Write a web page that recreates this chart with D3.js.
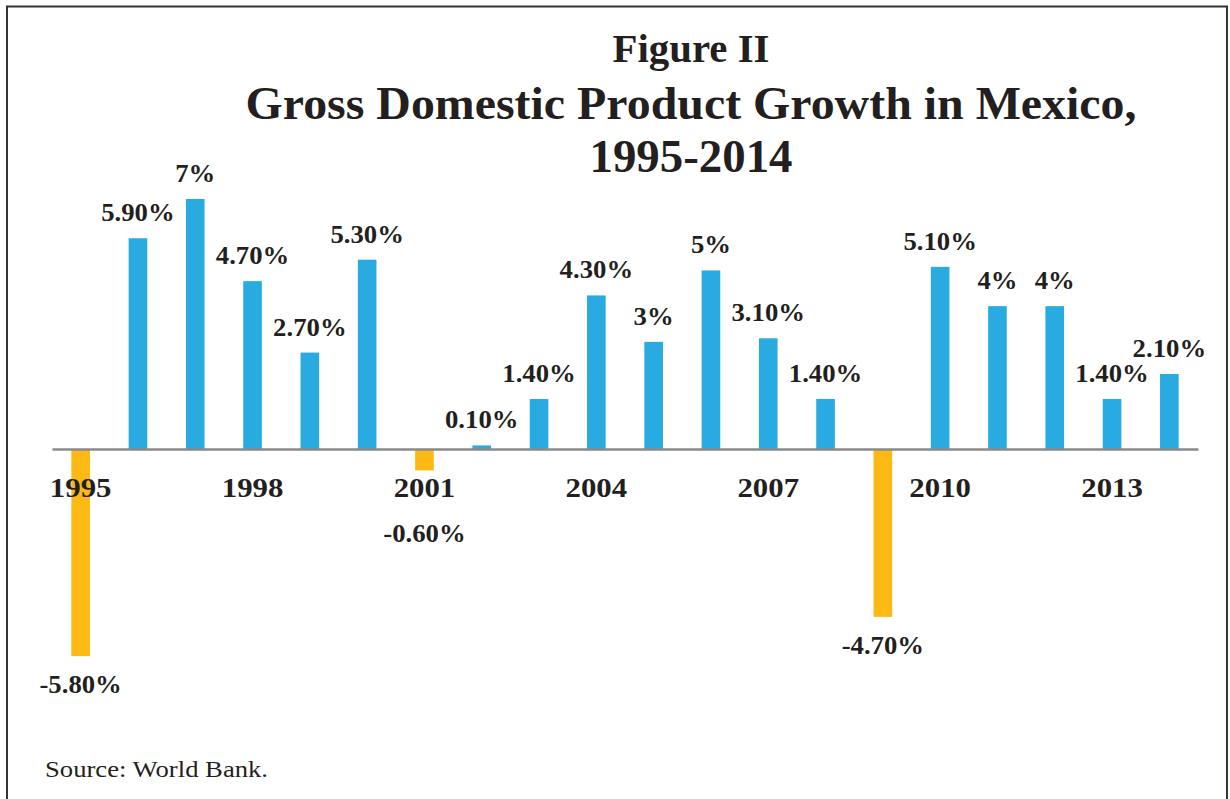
<!DOCTYPE html>
<meta charset="utf-8">
<style>
body { margin: 0; background: #fff; }
svg { display: block; }
text { font-family: "Liberation Serif", "Times New Roman", serif; fill: #231f20; }
.title { font-weight: bold; text-anchor: middle; }
.val { font-weight: bold; font-size: 25px; text-anchor: middle; }
.axis text { font-weight: bold; font-size: 28px; font-family: "Liberation Serif", serif; fill: #231f20; }
.axis path { stroke: #8a8a8a; stroke-width: 2.5; }
.source { font-size: 24px; }
</style>
<body>
<script src="https://d3js.org/d3.v7.min.js"></script>
<script>

// data (World Bank, GDP growth %)
var years = [1995, 1996, 1997, 1998, 1999, 2000, 2001, 2002, 2003, 2004,
             2005, 2006, 2007, 2008, 2009, 2010, 2011, 2012, 2013, 2014];
var growth = [-5.8, 5.9, 7, 4.7, 2.7, 5.3, -0.6, 0.1, 1.4, 4.3,
              3, 5, 3.1, 1.4, -4.7, 5.1, 4, 4, 1.4, 2.1];
var tickYears = [1995, 1998, 2001, 2004, 2007, 2010, 2013];
var titleLines = ["Figure II", "Gross Domestic Product Growth in Mexico,", "1995-2014"];
var source = "Source: World Bank.";

var W = 1230, H = 799;

var data = years.map(function(d, i) { return {year: d, value: growth[i]}; });

var svg = d3.select("body").append("svg")
    .attr("width", W)
    .attr("height", H);

// frame round the figure (bottom edge runs off the page)
svg.append("rect")
    .attr("x", 7).attr("y", 6.5)
    .attr("width", 1220).attr("height", 820)
    .attr("fill", "none")
    .attr("stroke", "#333")
    .attr("stroke-width", 2);

// scales
var x = d3.scaleBand()
    .domain(years)
    .range([52, 1198])
    .paddingInner(0.675)
    .paddingOuter(0.3375);

var y = d3.scaleLinear()
    .domain([0, 7])
    .range([449, 199]);

// title
var tl = [
  {t: titleLines[0], size: 40, y: 62, len: 157},
  {t: titleLines[1], size: 47, y: 119, len: 891},
  {t: titleLines[2], size: 47, y: 172, len: 203}
];
svg.selectAll(".title")
    .data(tl)
  .enter().append("text")
    .attr("class", "title")
    .attr("x", 691)
    .attr("y", function(d) { return d.y; })
    .style("font-size", function(d) { return d.size + "px"; })
    .attr("textLength", function(d) { return d.len; })
    .attr("lengthAdjust", "spacingAndGlyphs")
    .text(function(d) { return d.t; });

// bars
svg.selectAll(".bar")
    .data(data)
  .enter().append("rect")
    .attr("class", "bar")
    .attr("x", function(d) { return x(d.year); })
    .attr("width", x.bandwidth())
    .attr("y", function(d) { return y(Math.max(0, d.value)); })
    .attr("height", function(d) { return Math.abs(y(d.value) - y(0)); })
    .attr("fill", function(d) { return d.value < 0 ? "#fdb913" : "#29abe2"; });

// x axis (every third year)
var axis = svg.append("g")
    .attr("class", "axis")
    .attr("transform", "translate(0," + y(0) + ")")
    .call(d3.axisBottom(x)
        .tickValues(tickYears)
        .tickSize(0)
        .tickSizeOuter(0)
        .tickPadding(28));
axis.select(".domain").attr("stroke", "#8a8a8a");
axis.selectAll("text").attr("transform", "scale(1.1,1)");

// value labels
function fmt(v) {
  return (Number.isInteger(v) ? v : v.toFixed(2)) + "%";
}
svg.selectAll(".val")
    .data(data)
  .enter().append("text")
    .attr("class", "val")
    .attr("transform", function(d) {
      var cx = x(d.year) + x.bandwidth() / 2;
      // negatives sit under the bar, but never on top of the year labels
      var cy = d.value < 0 ? Math.max(y(d.value) + 37, y(0) + 93) : y(d.value) - 17;
      return "translate(" + cx + "," + cy + ") scale(1.07,1)";
    })
    .text(function(d) { return fmt(d.value); });

// source note
svg.append("text")
    .attr("class", "source")
    .attr("x", 45)
    .attr("y", 777)
    .attr("textLength", 223)
    .attr("lengthAdjust", "spacingAndGlyphs")
    .text(source);

</script>
</body>
